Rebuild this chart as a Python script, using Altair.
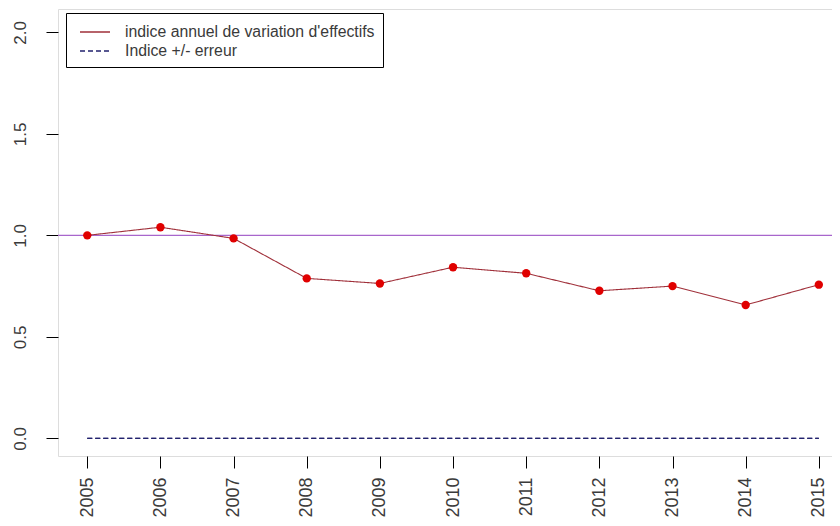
import altair as alt
import pandas as pd

years = [2005, 2006, 2007, 2008, 2009, 2010, 2011, 2012, 2013, 2014, 2015]
indice = [1.0, 1.04, 0.985, 0.788, 0.763, 0.843, 0.813, 0.727, 0.750, 0.657, 0.757]
erreur_haut = [0, 0, 0, 0, 0, 0, 0, 0, 0, 0, 0]
erreur_bas = [0, 0, 0, 0, 0, 0, 0, 0, 0, 0, 0]
y_ticks = [0.0, 0.5, 1.0, 1.5, 2.0]
reference = 1.0

s1 = "indice annuel de variation d'effectifs"
s2 = "Indice +/- erreur"

df_ind = pd.DataFrame({"annee": years, "valeur": indice, "serie": s1})
df_err = pd.concat([
    pd.DataFrame({"annee": years, "valeur": erreur_haut, "serie": s2, "grp": "haut"}),
    pd.DataFrame({"annee": years, "valeur": erreur_bas, "serie": s2, "grp": "bas"}),
])
df_ref = pd.DataFrame({"ref": [reference]})

FONT = "Liberation Sans"
TXT = "#3a3a3a"

xscale = alt.Scale(domain=[2004.6, 2015.18], nice=False, zero=False)
yscale = alt.Scale(domain=[-0.087, 2.115], nice=False, zero=False)

xaxis = alt.Axis(values=years, format="d", title=None, grid=False, domain=False,
                 tickSize=12, tickColor="black", labelAngle=270, labelAlign="right",
                 labelBaseline="middle", labelPadding=9, labelFontSize=18,
                 labelFont=FONT, labelColor=TXT, labelFlush=False)
yaxis = alt.Axis(values=y_ticks, format=".1f", title=None, grid=False, domain=False,
                 tickSize=12, tickColor="black", labelAngle=270, labelAlign="center",
                 labelBaseline="alphabetic", labelPadding=21, labelFontSize=17,
                 labelFont=FONT, labelColor=TXT, labelFlush=False)

color_scale = alt.Scale(domain=[s1, s2], range=["#a0303a", "#22226e"])
dash_scale = alt.Scale(domain=[s1, s2], range=[[1, 0], [5, 3]])
legend = alt.Legend(
    title=None, orient="none", legendX=8, legendY=4,
    strokeColor="black", fillColor="white", padding=8, labelFont=FONT,
    labelFontSize=15.8, labelColor=TXT, symbolType="M-0.5,0H2.5", symbolSize=400,
    symbolStrokeWidth=1.3, labelOffset=29, rowPadding=0, cornerRadius=0,
    labelLimit=400,
)

ref_rule = alt.Chart(df_ref).mark_rule(color="#a866cc", strokeWidth=1.3).encode(
    y=alt.Y("ref:Q", scale=yscale, axis=yaxis)
)

err_line = alt.Chart(df_err).mark_line(strokeWidth=1.3).encode(
    x=alt.X("annee:Q", scale=xscale, axis=xaxis),
    y=alt.Y("valeur:Q", scale=yscale, axis=yaxis),
    color=alt.Color("serie:N", scale=color_scale, legend=legend),
    strokeDash=alt.StrokeDash("serie:N", scale=dash_scale, legend=legend),
    detail="grp:N",
)

ind_line = alt.Chart(df_ind).mark_line(strokeWidth=1.1).encode(
    x=alt.X("annee:Q", scale=xscale, axis=xaxis),
    y=alt.Y("valeur:Q", scale=yscale, axis=yaxis),
    color=alt.Color("serie:N", scale=color_scale, legend=legend),
    strokeDash=alt.StrokeDash("serie:N", scale=dash_scale, legend=legend),
)

ind_pts = alt.Chart(df_ind).mark_circle(size=70, opacity=1, color="#e00000").encode(
    x=alt.X("annee:Q", scale=xscale, axis=xaxis),
    y=alt.Y("valeur:Q", scale=yscale, axis=yaxis),
)

chart = alt.layer(ref_rule, err_line, ind_line, ind_pts).properties(
    width=774, height=447,
    autosize=alt.AutoSizeParams(type="none"),
    padding={"left": 50, "top": 1, "right": 0, "bottom": 62},
).configure_view(
    stroke="black", strokeWidth=1.2
).configure(background="white")

chart.save("out.html", embed_options={"renderer": "svg", "actions": False})
